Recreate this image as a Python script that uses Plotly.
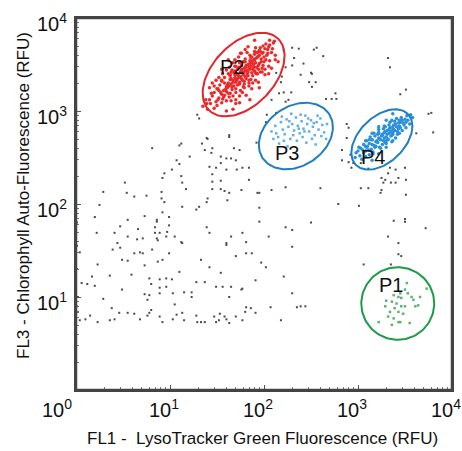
import math
import plotly.graph_objects as go

# ---- data: (log10 FL1, log10 FL3) for each event ----
other = [
    (2.21,3.66),(2.30,3.68),(2.37,3.67),(2.56,3.68),(2.63,3.59),(2.32,3.57),(2.30,3.49),(2.23,3.47),(2.42,3.51),
    (2.39,3.39),(2.51,3.40),(2.55,3.31),(2.48,3.31),(2.19,3.37),(2.18,3.31),(2.21,3.20),(2.29,3.20),(2.51,3.26),
    (2.76,3.19),(2.77,3.13),(2.72,3.13),(2.66,3.13),(2.26,3.12),(2.23,3.10),(3.32,3.57),(3.34,3.47),(3.51,3.23),
    (3.45,3.18),(3.75,2.97),(2.88,2.86),(2.90,2.82),(2.53,3.66),(2.13,3.41),(2.16,3.19),(2.08,3.12),(2.50,3.41),
    (2.02,2.88),(2.13,2.98),(1.29,2.96),(1.39,2.71),(1.63,2.74),
    (2.88,2.71),(2.83,2.58),(2.92,2.53),(2.90,2.45),(2.95,2.44),(2.93,2.39),(3.03,2.44),(3.11,2.38),(3.25,2.28),
    (3.29,2.26),(3.27,2.23),(3.32,2.33),(3.34,2.39),(3.40,2.37),(3.43,2.28),(3.35,2.23),(3.50,2.39),(3.51,2.26),
    (3.25,2.15),(3.24,2.12),(3.40,2.23),(3.62,2.76),(3.80,2.77),(3.11,2.17),(3.51,2.10),(2.79,2.00),(3.01,1.98),
    (3.38,1.82),(3.50,1.84),(3.50,1.81),(3.72,1.74),(3.32,1.65),(3.43,1.46),(3.46,1.44),(3.06,1.35),(3.35,1.35),
    (3.43,1.58),(2.44,0.90),(2.39,0.90),(2.83,2.47),(3.03,2.17),(3.78,2.98),
    (1.31,2.92),(0.81,2.60),(1.12,2.65),(1.34,2.65),(1.40,2.70),(1.63,2.72),(1.37,2.58),(1.45,2.60),(1.44,2.55),
    (1.68,2.60),(1.74,2.58),(1.21,2.51),(1.07,2.47),(1.10,2.43),(1.54,2.51),(1.60,2.49),(1.65,2.49),(1.54,2.44),
    (1.70,2.47),(1.42,2.40),(1.49,2.39),(1.60,2.37),(1.71,2.37),(1.77,2.39),(1.84,2.39),(1.02,2.37),(0.94,2.33),
    (1.12,2.30),(1.45,2.32),(1.54,2.25),(1.84,2.26),(0.92,2.28),(1.13,2.23),(1.45,2.24),(1.45,2.16),(1.54,2.16),
    (1.58,2.14),(1.63,2.12),(1.76,2.15),(1.95,2.12),(0.91,2.13),(1.17,2.16),(0.91,2.06),(1.40,2.06),(1.39,2.02),
    (0.94,2.02),(1.13,1.97),(1.31,1.97),(1.28,1.94),(1.61,2.04),(1.95,1.96),(0.92,1.91),(0.99,1.86),(0.86,1.83),
    (0.99,1.77),(0.84,1.75),(1.39,1.75),(0.89,1.69),(0.97,1.70),(0.86,1.63),(0.96,1.65),(1.05,1.65),(1.13,1.58),
    (1.42,1.69),(1.65,1.65),(1.81,1.59),(1.60,1.56),(2.05,1.65),(1.95,1.81),(1.92,2.66),(2.03,2.96),(1.10,2.63),
    (0.52,2.23),(0.29,2.13),(0.25,1.99),(0.20,1.86),(0.54,2.12),(0.62,2.08),(0.75,2.09),(0.55,1.83),(0.73,1.87),
    (0.47,1.76),(0.66,1.73),(0.86,1.81),(0.84,1.69),(0.22,1.69),(0.41,1.69),(0.55,1.65),(0.71,1.63),(0.65,1.62),
    (0.87,1.61),(0.44,1.58),(0.47,1.53),(0.39,1.51),(0.68,1.48),(0.81,1.51),(0.04,1.48),(1.60,1.58),(1.93,2.12),
    (1.12,1.59),(1.70,1.44),(0.49,1.40),(0.55,1.39),(0.62,1.47),(0.71,1.47),(0.99,1.47),(0.87,1.38),(0.92,1.40),
    (0.73,1.34),(0.23,1.35),(1.33,1.40),(1.42,1.32),(1.10,1.27),(1.54,1.26),(0.36,1.23),(0.59,1.24),(0.17,1.22),
    (0.06,1.15),(0.12,1.14),(0.20,1.12),(0.49,1.08),(0.78,1.20),(0.89,1.19),(0.96,1.20),(1.02,1.19),(0.80,1.14),
    (0.89,1.10),(0.96,1.11),(1.03,1.04),(0.89,1.04),(0.73,1.03),(0.78,1.02),(0.76,0.97),(1.15,1.05),(1.23,1.05),
    (1.23,1.00),(1.28,1.16),(1.37,1.16),(1.49,1.11),(1.56,1.11),(1.65,1.11),(1.76,1.08),(1.63,1.00),(0.29,0.98),
    (0.38,0.88),(1.05,0.92),(1.81,0.89),(1.86,0.88),(0.80,0.86),(0.78,0.83),(0.02,0.84),(0.15,0.80),(0.10,0.76),
    (0.04,0.75),(0.23,0.73),(0.36,0.75),(0.41,0.76),(0.46,0.83),(0.55,0.83),(0.62,0.82),(0.68,0.76),(0.76,0.80),
    (0.89,0.79),(0.92,0.73),(1.03,0.76),(1.07,0.81),(1.13,0.83),(1.15,0.75),(1.28,0.80),(1.29,0.73),(1.33,0.73),
    (1.37,0.73),(1.47,0.79),(1.49,0.73),(1.53,0.82),(1.58,0.79),(1.60,0.76),(1.63,0.72),(1.70,0.79),(1.77,0.75),
    (1.80,0.84),(1.81,1.47),(1.77,1.09),
    (2.23,1.75),(2.30,1.54),(2.21,1.22),(2.30,1.04),(2.18,0.75),(2.35,0.89),(2.07,0.89),(1.91,0.83),(1.52,0.75),
    (1.77,1.69),(1.87,1.47),(1.97,1.37),(2.02,1.32),(1.91,1.18),(2.08,2.15),(2.23,2.18),(2.30,1.72),(2.50,1.80),
    (2.60,2.17),(0.01,1.80),(0.01,1.55),(0.01,1.30),(0.02,1.00),(0.01,0.90),
]

p2 = [
    (1.40,3.02),(1.47,3.03),(1.43,3.08),(1.50,3.06),(1.55,3.09),(1.42,3.12),(1.49,3.10),(1.56,3.13),(1.60,3.11),
    (1.45,3.16),(1.52,3.14),(1.58,3.17),(1.63,3.15),(1.67,3.16),(1.47,3.20),(1.55,3.18),(1.60,3.21),(1.64,3.19),
    (1.70,3.20),(1.52,3.22),(1.50,3.24),(1.57,3.22),(1.61,3.25),(1.66,3.23),(1.70,3.24),(1.75,3.22),(1.63,3.27),
    (1.53,3.28),(1.60,3.26),(1.65,3.29),(1.68,3.27),(1.72,3.28),(1.78,3.26),(1.58,3.30),(1.70,3.31),(1.55,3.32),
    (1.62,3.30),(1.67,3.33),(1.70,3.34),(1.74,3.31),(1.79,3.32),(1.84,3.30),(1.73,3.36),(1.65,3.35),(1.58,3.36),
    (1.64,3.38),(1.69,3.36),(1.73,3.38),(1.76,3.35),(1.80,3.37),(1.86,3.34),(1.71,3.40),(1.78,3.39),(1.62,3.40),
    (1.68,3.41),(1.72,3.39),(1.75,3.42),(1.78,3.41),(1.82,3.40),(1.88,3.38),(1.93,3.40),(1.80,3.43),(1.76,3.44),
    (1.66,3.44),(1.72,3.45),(1.76,3.43),(1.79,3.46),(1.82,3.44),(1.85,3.45),(1.90,3.43),(1.96,3.42),(1.84,3.47),
    (1.70,3.48),(1.76,3.49),(1.80,3.47),(1.83,3.50),(1.86,3.48),(1.89,3.47),(1.94,3.49),(1.98,3.46),(1.87,3.52),
    (1.74,3.52),(1.80,3.53),(1.85,3.51),(1.88,3.54),(1.91,3.52),(1.95,3.51),(2.00,3.53),(1.90,3.56),(1.80,3.56),
    (1.86,3.57),(1.90,3.55),(1.93,3.58),(1.97,3.56),(2.02,3.55),(1.95,3.60),(1.85,3.60),(1.90,3.61),(1.94,3.59),
    (1.98,3.62),(2.03,3.60),(1.96,3.64),(1.90,3.64),(1.95,3.65),(1.99,3.63),(2.04,3.66),(2.08,3.63),(1.96,3.68),
    (2.01,3.67),(2.05,3.69),(2.09,3.67),(2.02,3.72),(2.06,3.71),(2.10,3.73),(2.06,3.76),(2.11,3.75),
    (1.38,3.12),(1.45,3.30),(1.55,3.45),(1.62,3.55),(1.75,3.62),(2.12,3.55),(2.05,3.40),(1.95,3.25),(1.85,3.12),
    (1.70,3.08),(1.35,3.05),(1.60,3.00),
    (1.67,3.31),(1.71,3.33),(1.75,3.37),(1.77,3.33),(1.81,3.35),(1.83,3.42),(1.87,3.41),(1.81,3.49),(1.85,3.54),
    (1.89,3.50),(1.92,3.47),(1.73,3.47),(1.69,3.43),(1.64,3.34),(1.61,3.28),(1.59,3.23),(1.66,3.26),(1.74,3.29),
    (1.77,3.45),(1.92,3.57),(1.97,3.53),(1.87,3.58),(1.83,3.38),(1.79,3.29),(1.62,3.19),(1.57,3.15),(2.00,3.58),
    (1.99,3.49),(1.94,3.45),(1.91,3.41),(1.69,3.39),(1.65,3.42),(2.04,3.62),(1.99,3.70),(1.54,3.20),(1.51,3.12),
    (1.93,3.63),(1.88,3.45),(1.72,3.35),(1.84,3.33),
    (1.42,3.25),(1.67,3.02),(1.49,3.33),(1.74,3.09),(1.56,3.40),(1.81,3.17),(1.63,3.47),(1.87,3.24),(1.69,3.55),
    (1.94,3.31),(1.76,3.62),(2.01,3.39),(1.83,3.69),(2.08,3.46),(1.90,3.76),(2.15,3.53),(1.51,3.24),(1.65,3.11),
    (1.64,3.39),(1.79,3.25),(1.78,3.53),(1.92,3.40),(1.91,3.68),(2.06,3.54),(1.55,3.33),(1.74,3.16),(1.69,3.48),
    (1.88,3.30),(1.82,3.63),(2.01,3.45),(1.47,3.27),(1.52,3.36),(1.60,3.44),(1.67,3.52),(1.73,3.58),(1.80,3.66),
    (1.70,3.12),(1.77,3.20),(1.84,3.27),(1.91,3.33),(1.98,3.42),(2.05,3.48),(2.12,3.60),(1.44,3.19),(1.39,3.08),
]

p3 = [
    (2.08,2.78),(2.12,2.84),(2.15,2.72),(2.18,2.88),(2.20,2.80),(2.22,2.75),(2.24,2.91),(2.26,2.83),(2.28,2.70),
    (2.30,2.86),(2.32,2.79),(2.34,2.93),(2.36,2.84),(2.38,2.76),(2.40,2.89),(2.42,2.81),(2.44,2.95),(2.46,2.86),
    (2.48,2.78),(2.50,2.90),(2.52,2.83),(2.54,2.74),(2.56,2.88),(2.58,2.80),(2.60,2.92),(2.62,2.85),(2.64,2.77),
    (2.66,2.70),(2.16,2.65),(2.25,2.62),(2.35,2.68),(2.45,2.66),(2.55,2.64),(2.10,2.70),(2.19,2.94),(2.29,2.97),
    (2.39,2.96),(2.47,2.92),(2.57,2.95),(2.67,2.86),(2.13,2.76),(2.31,2.74),(2.41,2.72),(2.51,2.70),(2.61,2.73),
    (2.27,2.89),(2.37,2.81),(2.53,2.87),(2.21,2.68),(2.43,2.78),
]

p4 = [
    (3.02,2.52),(3.08,2.51),(3.12,2.53),(3.00,2.57),(3.06,2.55),(3.11,2.58),(3.16,2.56),(3.03,2.60),(3.09,2.61),
    (3.14,2.59),(3.19,2.62),(3.24,2.60),(3.06,2.64),(3.12,2.65),(3.17,2.63),(3.21,2.66),(3.26,2.64),(3.30,2.65),
    (3.09,2.68),(3.15,2.69),(3.19,2.67),(3.23,2.70),(3.27,2.68),(3.32,2.69),(3.36,2.67),(3.13,2.72),(3.18,2.73),
    (3.22,2.71),(3.26,2.74),(3.30,2.72),(3.35,2.73),(3.40,2.71),(3.17,2.76),(3.22,2.77),(3.26,2.75),(3.29,2.78),
    (3.33,2.76),(3.37,2.77),(3.42,2.75),(3.22,2.80),(3.27,2.81),(3.31,2.79),(3.34,2.82),(3.38,2.80),(3.43,2.81),
    (3.47,2.79),(3.28,2.84),(3.33,2.85),(3.37,2.83),(3.40,2.86),(3.44,2.84),(3.49,2.85),(3.34,2.88),(3.39,2.89),
    (3.43,2.87),(3.47,2.90),(3.51,2.88),(3.41,2.92),(3.46,2.93),(3.50,2.91),
    (3.24,2.69),(3.28,2.71),(3.31,2.75),(3.35,2.78),(3.39,2.79),(3.36,2.74),(3.32,2.70),(3.28,2.77),(3.41,2.83),
    (3.45,2.82),(3.38,2.85),(3.25,2.73),(3.20,2.68),(3.15,2.64),(3.10,2.62),(3.45,2.88),(3.48,2.87),(3.42,2.78),
    (3.33,2.80),(3.21,2.75),(3.05,2.58),(2.98,2.55),(3.53,2.90),(3.55,2.86),(3.18,2.61),(3.29,2.66),(3.37,2.81),
    (3.44,2.90),(3.12,2.69),(3.08,2.57),
    (3.01,2.61),(3.15,2.47),(3.08,2.68),(3.22,2.54),(3.15,2.76),(3.30,2.61),(3.22,2.83),(3.37,2.68),(3.30,2.90),
    (3.44,2.76),(3.37,2.97),(3.51,2.82),(3.08,2.62),(3.16,2.54),(3.22,2.76),(3.30,2.68),(3.36,2.90),(3.44,2.82),
    (3.29,2.83),(3.37,2.75),(3.15,2.69),(3.23,2.61),(3.58,2.93),(3.56,2.96),(3.52,2.95),(2.97,2.50),(3.04,2.48),
]

p1 = [
    (3.52,1.15),(3.50,1.08),(3.43,1.00),(3.38,1.02),(3.30,0.96),(3.36,0.95),(3.41,0.93),(3.46,0.99),(3.57,1.00),
    (3.59,0.97),(3.66,1.00),(3.64,0.91),(3.73,1.09),(3.39,0.88),(3.34,0.84),(3.43,0.84),(3.48,0.82),(3.32,0.79),
    (3.38,0.77),(3.43,0.73),(3.45,0.73),(3.55,0.72),(3.22,0.73),(3.36,0.70),(3.50,0.90),(3.53,1.04),(3.61,0.90),
    (3.29,0.90),(3.46,0.90),(3.45,1.04),
]

# gates: name, centre (log10 FL1, log10 FL3), semi-axes (decades), tilt (deg), colour, label position
gate_names = ["P2", "P3", "P4", "P1"]
gate_centres = [(1.783, 3.392), (2.339, 2.731), (3.254, 2.694), (3.423, 0.930)]
gate_axes = [(0.532, 0.330), (0.426, 0.319), (0.389, 0.243), (0.388, 0.390)]
gate_tilts = [47, 35, 45, 0]
gate_colours = ["#e3262b", "#1f7ec2", "#1f7ec2", "#1f9a48"]
label_pos = [(1.661, 3.473), (2.243, 2.548), (3.164, 2.505), (3.354, 1.129)]

decade_exps = [0, 1, 2, 3, 4]

FONT = "Liberation Sans, Arial, sans-serif"

def xs(pts):
    return [10 ** a for a, b in pts]

def ys(pts):
    return [10 ** b for a, b in pts]

fig = go.Figure()

fig.add_trace(go.Scatter(x=xs(other), y=ys(other), mode="markers",
                         marker=dict(symbol="square", size=2, color="#4a4a4a"),
                         hoverinfo="skip", showlegend=False))
fig.add_trace(go.Scatter(x=xs(p3), y=ys(p3), mode="markers",
                         marker=dict(symbol="square", size=2.5, color="#62aee6"),
                         hoverinfo="skip", showlegend=False))
fig.add_trace(go.Scatter(x=xs(p1), y=ys(p1), mode="markers",
                         marker=dict(symbol="square", size=2.5, color="#5cb56e"),
                         hoverinfo="skip", showlegend=False))
fig.add_trace(go.Scatter(x=xs(p4), y=ys(p4), mode="markers",
                         marker=dict(symbol="circle", size=3.5, color="#2b90d9"),
                         hoverinfo="skip", showlegend=False))
fig.add_trace(go.Scatter(x=xs(p2), y=ys(p2), mode="markers",
                         marker=dict(symbol="circle", size=3.5, color="#ec2a2a"),
                         hoverinfo="skip", showlegend=False))

# gate outlines
for (cx, cy), (ga, gb), th, col in zip(gate_centres, gate_axes, gate_tilts, gate_colours):
    r = math.radians(th)
    gx, gy = [], []
    for i in range(121):
        t = 2 * math.pi * i / 120
        lx = cx + ga * math.cos(t) * math.cos(r) - gb * math.sin(t) * math.sin(r)
        ly = cy + ga * math.cos(t) * math.sin(r) + gb * math.sin(t) * math.cos(r)
        gx.append(10 ** lx)
        gy.append(10 ** ly)
    fig.add_trace(go.Scatter(x=gx, y=gy, mode="lines", line=dict(color=col, width=2),
                             hoverinfo="skip", showlegend=False))

annotations = []
for name, (lx, ly) in zip(gate_names, label_pos):
    annotations.append(dict(x=lx, y=ly, xref="x", yref="y", text=name, showarrow=False,
                            font=dict(family=FONT, size=20, color="#111")))

# decade tick labels
for e in decade_exps:
    annotations.append(dict(x=e, y=0, xref="x", yref="paper", text=f"10<sup>{e}</sup>",
                            showarrow=False, xanchor="center", yanchor="middle",
                            xshift=(-19 if e == 0 else -6), yshift=-18,
                            font=dict(family=FONT, size=20, color="#111")))
for e in decade_exps[1:]:
    annotations.append(dict(x=0, y=e, xref="paper", yref="y", text=f"10<sup>{e}</sup>",
                            showarrow=False, xanchor="right", yanchor="middle",
                            xshift=-7, yshift=-4,
                            font=dict(family=FONT, size=20, color="#111")))

annotations.append(dict(x=0.497, y=0, xref="paper", yref="paper",
                        text="FL1 -  LysoTracker Green Fluorescence (RFU)", showarrow=False,
                        xanchor="center", yanchor="middle", yshift=-48,
                        font=dict(family=FONT, size=17, color="#111")))
annotations.append(dict(x=0, y=0.5215, xref="paper", yref="paper",
                        text="FL3 - Chlorophyll Auto-Fluorescence (RFU)", showarrow=False,
                        textangle=-90, xanchor="center", yanchor="middle", xshift=-53,
                        font=dict(family=FONT, size=17, color="#111")))

minor_vals = [d * 10 ** k for k in range(4) for d in range(2, 10)]
axis_common = dict(type="log", range=[0, 4], showgrid=False, zeroline=False,
                   showticklabels=False, showline=True, mirror=True,
                   linecolor="#444444", linewidth=2,
                   ticks="inside", ticklen=5, tickcolor="#555555",
                   tickvals=[10 ** e for e in decade_exps],
                   minor=dict(tickvals=minor_vals, ticks="inside", ticklen=3,
                              tickcolor="#777777", showgrid=False))

fig.update_layout(
    width=462, height=451,
    margin=dict(l=76, r=8, t=18, b=61),
    paper_bgcolor="white", plot_bgcolor="white",
    xaxis=axis_common, yaxis=axis_common,
    annotations=annotations,
    shapes=[dict(type="rect", xref="paper", yref="paper", x0=0, x1=1, y0=0, y1=1,
                 line=dict(color="#444444", width=2.5), layer="above")],
    showlegend=False,
)

# remove the page's default 8px body margin so the figure fills the window exactly
fig.write_html("out.html", config={"displayModeBar": False},
               post_script="document.body.style.margin='0';document.body.style.overflow='hidden';")
